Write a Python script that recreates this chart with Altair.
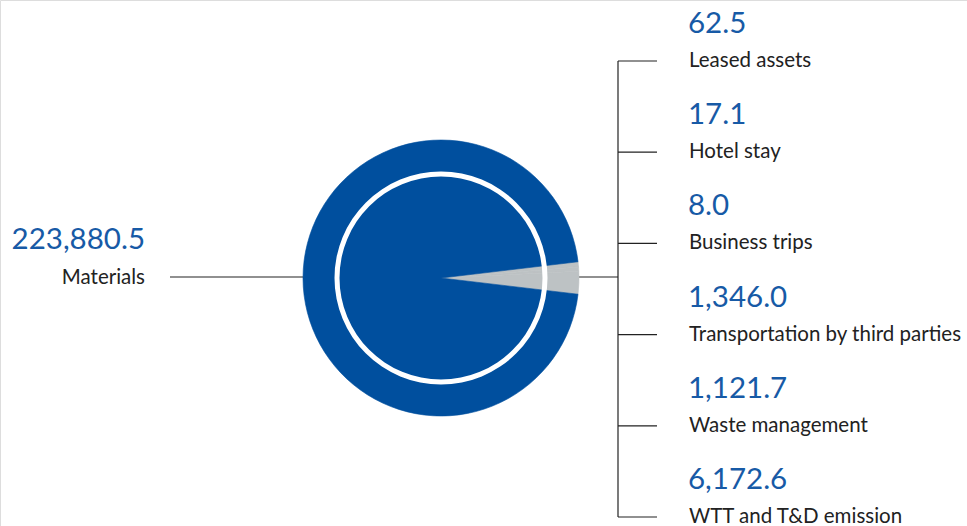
import math
import altair as alt
import pandas as pd

# ---- data ----
categories = ["Leased assets", "Hotel stay", "Business trips",
              "Transportation by third parties", "Waste management",
              "WTT and T&D emission", "Materials"]
values = [62.5, 17.1, 8.0, 1346.0, 1121.7, 6172.6, 223880.5]
value_labels = ["62.5", "17.1", "8.0", "1,346.0", "1,121.7", "6,172.6", "223,880.5"]

BLUE = "#004f9e"
GREY = "#bdc2c4"
TEXT_BLUE = "#175aa6"
TEXT = "#222222"
FONT = "Lato"

total = sum(values)
others_frac = sum(values[:-1]) / total
start = math.pi / 2 - others_frac * math.pi

df = pd.DataFrame({
    "category": categories,
    "value": values,
    "label": value_labels,
    "order": list(range(len(categories))),
})
right = df[df["category"] != "Materials"].copy()
right["slot"] = list(range(len(right)))
left = df[df["category"] == "Materials"].copy()

CX, CY, R = 441, 278, 138

pie = alt.Chart(df).mark_arc(radius=R, strokeWidth=0.6).encode(
    theta=alt.Theta("value:Q", stack=True,
                    scale=alt.Scale(range=[start, start + 2 * math.pi])),
    order=alt.Order("order:Q"),
    color=alt.condition(alt.datum.category == "Materials", alt.value(BLUE), alt.value(GREY)),
    stroke=alt.condition(alt.datum.category == "Materials", alt.value(BLUE), alt.value(GREY)),
    x=alt.value(CX), y=alt.value(CY),
)

ring = alt.Chart(pd.DataFrame({"a": [0]})).mark_arc(
    radius=106.5, radius2=101.5, color="white"
).encode(
    theta=alt.value(0), theta2=alt.value(2 * math.pi),
    x=alt.value(CX), y=alt.value(CY),
)

yslot = alt.Y("slot:Q", scale=alt.Scale(domain=[0, 5], range=[61, 517]), axis=None)

ticks = alt.Chart(right).mark_rule(color=TEXT, strokeWidth=1.2).encode(
    x=alt.value(618), x2=alt.value(657), y=yslot,
)
vline = alt.Chart(pd.DataFrame({"a": [0]})).mark_rule(color=TEXT, strokeWidth=1.2).encode(
    x=alt.value(618), y=alt.value(61), y2=alt.value(517),
)
hline_r = alt.Chart(pd.DataFrame({"a": [0]})).mark_rule(color=TEXT, strokeWidth=1.2).encode(
    x=alt.value(579), x2=alt.value(618), y=alt.value(277),
)
hline_l = alt.Chart(pd.DataFrame({"a": [0]})).mark_rule(color=TEXT, strokeWidth=1.2).encode(
    x=alt.value(170), x2=alt.value(303), y=alt.value(277),
)

val_r = alt.Chart(right).mark_text(
    align="left", baseline="alphabetic", dy=-28, font=FONT, fontSize=29.5, color=TEXT_BLUE
).encode(x=alt.value(688), y=yslot, text="label:N")

lab_r = alt.Chart(right).mark_text(
    align="left", baseline="alphabetic", dy=6, font=FONT, fontSize=20.5, color=TEXT
).encode(x=alt.value(689), y=yslot, text="category:N")

val_l = alt.Chart(left).mark_text(
    align="right", baseline="alphabetic", font=FONT, fontSize=29.5, color=TEXT_BLUE
).encode(x=alt.value(145), y=alt.value(249), text="label:N")

lab_l = alt.Chart(left).mark_text(
    align="right", baseline="alphabetic", font=FONT, fontSize=20.5, color=TEXT
).encode(x=alt.value(145), y=alt.value(284), text="category:N")

chart = alt.layer(
    hline_l, hline_r, vline, ticks, pie, ring, val_r, lab_r, val_l, lab_l
).properties(
    width=967, height=526, padding=0, autosize=alt.AutoSizeParams(type="none")
).configure_view(stroke=None).configure(background="white")

chart.save("out.html", embed_options={"renderer": "svg", "actions": False})
